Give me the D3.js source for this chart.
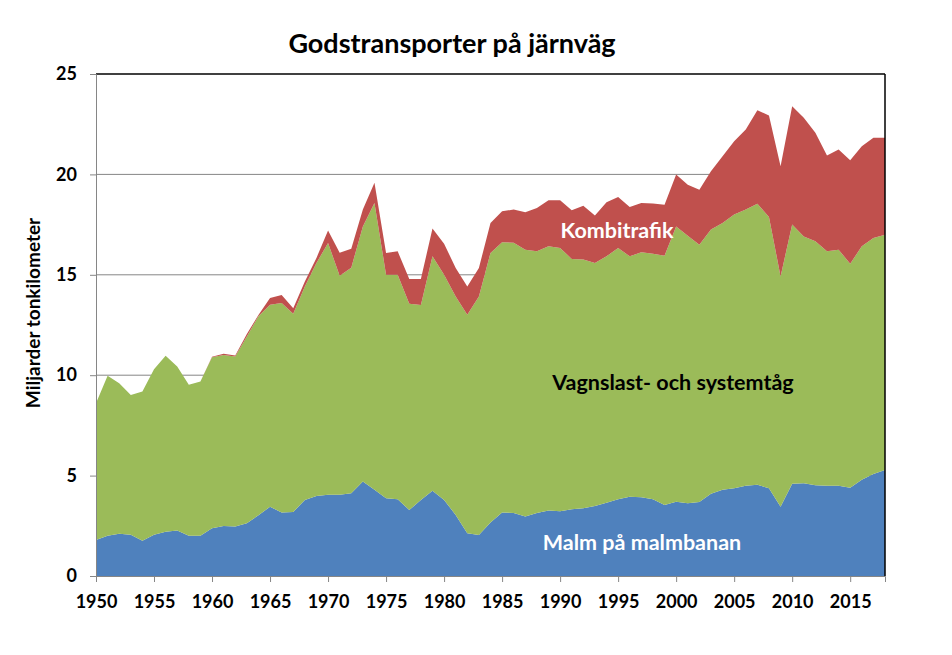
<!DOCTYPE html>
<html>
<head>
<meta charset="utf-8">
<script src="https://cdn.jsdelivr.net/npm/d3@7"></script>
<style>
html,body{margin:0;padding:0;background:#fff;}
svg text{font-family:Lato,"Open Sans",sans-serif;font-weight:bold;}
</style>
</head>
<body>
<svg id="chart" width="952" height="655"></svg>
<script>
const years = d3.range(1950, 2019);
const malm = [1.79,2.0,2.1,2.05,1.76,2.05,2.2,2.26,2.0,2.0,
  2.38,2.49,2.46,2.63,3.02,3.45,3.16,3.19,3.79,3.99,
  4.05,4.05,4.12,4.7,4.29,3.87,3.82,3.29,3.79,4.25,
  3.79,3.04,2.13,2.04,2.66,3.16,3.14,2.96,3.14,3.26,
  3.22,3.32,3.37,3.49,3.65,3.82,3.95,3.92,3.82,3.54,
  3.7,3.62,3.69,4.09,4.29,4.37,4.49,4.54,4.37,3.45,
  4.59,4.62,4.52,4.49,4.49,4.4,4.79,5.08,5.28];
const vagnslast = [6.81,7.97,7.5,6.97,7.43,8.25,8.77,8.17,7.52,7.69,
  8.52,8.51,8.47,9.3,9.91,10.06,10.44,9.87,10.63,11.6,
  12.53,10.9,11.23,12.71,14.29,11.13,11.18,10.27,9.7,11.67,
  11.21,10.88,10.88,11.88,13.43,13.46,13.46,13.29,13.03,13.16,
  13.12,12.47,12.39,12.1,12.27,12.52,11.97,12.2,12.23,12.41,
  13.71,13.33,12.81,13.16,13.29,13.63,13.76,14.0,13.51,11.47,
  12.91,12.29,12.15,11.68,11.76,11.15,11.63,11.75,11.72];
const kombi = [0,0,0,0,0,0,0,0,0,0,
  0.02,0.07,0.05,0.12,0.07,0.33,0.4,0.28,0.25,0.25,
  0.62,1.15,0.95,0.84,1.0,1.09,1.17,1.23,1.3,1.38,
  1.55,1.42,1.41,1.42,1.49,1.54,1.65,1.86,2.16,2.29,
  2.37,2.42,2.68,2.36,2.69,2.54,2.46,2.46,2.5,2.54,
  2.58,2.54,2.74,2.91,3.32,3.65,3.98,4.66,5.05,5.48,
  5.9,5.91,5.4,4.77,4.99,5.15,4.98,4.99,4.82];
const seriesNames = ["Malm på malmbanan","Vagnslast- och systemtåg","Kombitrafik"];
const seriesColors = ["#4F81BD","#9BBB59","#C0504D"];
const yTicks = [0,5,10,15,20,25];
const xTicks = d3.range(1950, 2019, 5);
const title = "Godstransporter på järnväg";
const yTitle = "Miljarder tonkilometer";

const svg = d3.select("#chart");
const x = d3.scaleLinear().domain([1950, 2018]).range([96, 885]);
const y = d3.scaleLinear().domain([0, 25]).range([576, 74]);

const rows = years.map((yr, i) => ({year: yr, s0: malm[i], s1: vagnslast[i], s2: kombi[i]}));
const stack = d3.stack().keys(["s0","s1","s2"]);
const layers = stack(rows);

// gridlines
svg.append("g").selectAll("line").data(yTicks.filter(d => d > 0 && d < 25)).join("line")
  .attr("x1", x(1950)).attr("x2", x(2018))
  .attr("y1", d => y(d)).attr("y2", d => y(d))
  .attr("stroke", "#868686").attr("stroke-width", 1);

const area = d3.area().x(d => x(d.data.year)).y0(d => y(d[0])).y1(d => y(d[1]));
svg.append("g").selectAll("path").data(layers).join("path")
  .attr("d", area).attr("fill", (d, i) => seriesColors[i]);

// top and right border
svg.append("line").attr("x1", x(1950)).attr("x2", x(2018)).attr("y1", y(25)).attr("y2", y(25))
  .attr("stroke", "#000").attr("stroke-width", 1.5);
svg.append("line").attr("x1", x(2018)).attr("x2", x(2018)).attr("y1", y(25)).attr("y2", y(0))
  .attr("stroke", "#000").attr("stroke-width", 1.5);

// axes
const yAxis = d3.axisLeft(y).tickValues(yTicks).tickSize(6).tickPadding(13).tickFormat(d3.format("d"));
const gy = svg.append("g").attr("transform", `translate(${x(1950)},0)`).call(yAxis);
const xAxis = d3.axisBottom(x).tickValues(xTicks).tickSize(6).tickPadding(13).tickFormat(d3.format("d"));
const gx = svg.append("g").attr("transform", `translate(0,${y(0)})`).call(xAxis);
[gx, gy].forEach(g => {
  g.select(".domain").attr("stroke", "#868686");
  g.selectAll(".tick line").attr("stroke", "#868686");
  g.selectAll("text").attr("fill", "#000").style("font-size", "18px").style("font-family", "Lato, sans-serif").style("font-weight", "bold");
});

// title
svg.append("text").attr("x", 452).attr("y", 53).attr("text-anchor", "middle")
  .style("font-size", "27px").attr("fill", "#000").text(title);
svg.append("text").attr("transform", "translate(40,313) rotate(-90)").attr("text-anchor", "middle")
  .style("font-size", "19px").attr("fill", "#000").text(yTitle);

// series labels
const labelPos = [[642, 550, "#fff"], [673, 390, "#000"], [617, 238, "#fff"]];
svg.append("g").selectAll("text").data(seriesNames).join("text")
  .attr("x", (d, i) => labelPos[i][0]).attr("y", (d, i) => labelPos[i][1])
  .attr("text-anchor", "middle").attr("fill", (d, i) => labelPos[i][2])
  .style("font-size", "21.5px").text(d => d);
</script>
</body>
</html>
